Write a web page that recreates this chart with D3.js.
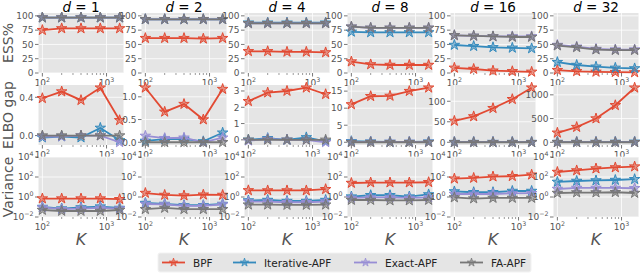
<!DOCTYPE html>
<html>
<head>
<meta charset="utf-8">
<script src="https://cdn.jsdelivr.net/npm/d3@7"></script>
<style>
  body { margin: 0; background: #fff; }
  svg { font-family: "DejaVu Sans", sans-serif; }
</style>
</head>
<body>
<svg id="chart" width="640" height="273"></svg>
<script>
// particle counts and dimensions
const Ks = [100, 200, 400, 800, 1600];
const dims = [1, 2, 4, 8, 16, 32];
const methods = ["BPF", "Iterative-APF", "Exact-APF", "FA-APF"];
const colors = ["#E24A33", "#348ABD", "#988ED5", "#777777"];

// ESS% per method, one row per d
const essBPF = [[75, 78, 78, 78, 78], [61, 61, 61, 60, 61], [38, 38, 37, 37, 36], [20, 15, 14, 14, 14], [9, 7, 4, 3, 2], [5, 3, 2, 1.5, 1]];
const essIter = [[97, 97, 97, 97, 97], [94, 94, 94, 94, 94], [88, 88, 88, 88, 88], [72, 71, 71, 71, 71], [49, 47, 45, 44, 43], [19, 14, 11, 9, 8]];
const essExact = [[97, 97, 97, 97, 97], [94, 94, 94, 94, 94], [87, 87, 87, 87, 87], [81, 79, 79, 79, 79], [66, 65, 64, 64, 64], [49, 46, 42, 41, 41]];
const essFA = [[97, 97, 97, 97, 97], [94, 94, 94, 94, 94], [87, 87, 87, 87, 87], [81, 79, 79, 79, 79], [66, 65, 64, 63, 63], [48, 45, 41, 40, 40]];

// ELBO gap
const elboBPF = [[0.39, 0.46, 0.37, 0.50, 0.16], [1.2, 0.67, 0.84, 0.5, 1.17], [2.37, 2.9, 3.0, 3.2, 2.8], [11.1, 13.5, 13.6, 15, 16], [52, 63, 83, 105, 133], [200, 320, 500, 780, 1150]];
const elboIter = [[-0.02, -0.01, -0.02, 0.08, -0.05], [0.03, 0.07, 0.07, 0.02, 0.21], [0, 0.1, 0, 0.15, -0.1], [0.3, 0.2, 0.1, 0.1, 0.2], [0.5, 0.5, 0.5, 0.5, 0.5], [5, 5, 5, 8, 10]];
const elboExact = [[-0.01, -0.01, 0.0, 0.0, -0.07], [0.14, 0.09, 0.1, 0.0, 0.1], [-0.05, 0.05, 0, 0, -0.15], [0.1, 0.1, 0.1, 0.1, 0.1], [0.3, 0.3, 0.3, 0.3, 0.3], [3, 3, 3, 3, 3]];
const elboFA = [[0, 0, 0, 0, 0], [0, 0, 0, 0, 0], [0, 0, 0, 0, 0], [0, 0, 0, 0, 0], [0, 0, 0, 0, 0], [0, 0, 0, 0, 0]];
const elboTicks = [[0, 0.4], [0, 0.5, 1], [0, 1, 2, 3], [0, 5, 10, 15], [0, 50, 100], [0, 500, 1000]];

// Variance (log scale)
const varBPF = [[0.7, 0.7, 0.7, 0.7, 0.6], [2.5, 1.6, 1.4, 1.7, 1.6], [4.6, 4.5, 4.5, 4.5, 6], [25, 28, 28, 28, 30], [68, 80, 110, 120, 170], [316, 450, 700, 900, 1100]];
const varIter = [[0.1, 0.07, 0.09, 0.11, 0.08], [0.25, 0.2, 0.15, 0.15, 0.2], [0.45, 0.5, 0.4, 0.4, 0.5], [1.1, 1.5, 1.5, 1.1, 1.8], [3.6, 3, 3, 4, 4], [32, 40, 45, 50, 60]];
const varExact = [[0.09, 0.06, 0.07, 0.08, 0.07], [0.2, 0.18, 0.13, 0.13, 0.18], [0.35, 0.35, 0.3, 0.3, 0.35], [0.8, 0.9, 0.9, 0.8, 0.9], [2, 2, 2, 2.3, 2.4], [6.3, 8, 8, 8, 7.5]];
const varFA = [[0.05, 0.04, 0.04, 0.04, 0.05], [0.06, 0.08, 0.06, 0.06, 0.06], [0.17, 0.17, 0.16, 0.16, 0.17], [0.5, 0.5, 0.45, 0.45, 0.5], [0.9, 0.7, 0.8, 0.8, 0.8], [2.5, 2.8, 2.8, 3, 2.5]];
const varTicks = [-2, 0, 2, 4];

const svg = d3.select("#chart");
const panelW = 85, panelH = 60, colStep = 103, left0 = 38.5;
const rowTops = [13, 85, 157];
const rowLabels = ["ESS%", "ELBO gap", "Variance"];
const tickColor = "#555555";

const rows = [
  { series: [essBPF, essIter, essExact, essFA] },
  { series: [elboBPF, elboIter, elboExact, elboFA] },
  { series: [varBPF, varIter, varExact, varFA] }
];

// x scale: log, padded 5% in log space like matplotlib
const lx0 = Math.log10(Ks[0]), lx1 = Math.log10(Ks[Ks.length - 1]);
const lpad = (lx1 - lx0) * 0.05;
const xDomain = [Math.pow(10, lx0 - lpad), Math.pow(10, lx1 + lpad)];

const star = d3.symbol().type(d3.symbolStar).size(34);

function powLabel(sel, exp) {
  sel.append("tspan").text("10");
  sel.append("tspan").attr("dy", -4).attr("font-size", 6.3).text(exp < 0 ? "\u2212" + (-exp) : exp);
}

rows.forEach((row, ri) => {
  dims.forEach((d, ci) => {
    const x0 = left0 + ci * colStep, y0 = rowTops[ri];
    const g = svg.append("g").attr("transform", `translate(${x0},${y0})`);
    const x = d3.scaleLog().domain(xDomain).range([0, panelW]);

    let y, yTicks;
    if (ri === 0) {
      y = d3.scaleLinear().domain([0, 105]).range([panelH, 0]);
      yTicks = [0, 25, 50, 75, 100];
    } else if (ri === 1) {
      const all = row.series.flatMap(s => s[ci]);
      const lo = d3.min(all), hi = d3.max(all), p = (hi - lo) * 0.05;
      y = d3.scaleLinear().domain([lo - p, hi + p]).range([panelH, 0]);
      yTicks = elboTicks[ci];
    } else {
      y = d3.scaleLog().domain([1e-2, 1e4]).range([panelH, 0]);
      yTicks = varTicks.map(e => Math.pow(10, e));
    }

    g.append("rect").attr("width", panelW).attr("height", panelH).attr("fill", "#E5E5E5");

    // grid
    g.selectAll(".gx").data([100, 1000]).enter().append("line")
      .attr("x1", v => x(v)).attr("x2", v => x(v)).attr("y1", 0).attr("y2", panelH)
      .attr("stroke", "#fff").attr("stroke-width", 0.8);
    g.selectAll(".gy").data(yTicks).enter().append("line")
      .attr("x1", 0).attr("x2", panelW).attr("y1", v => y(v)).attr("y2", v => y(v))
      .attr("stroke", "#fff").attr("stroke-width", 0.8);

    // x ticks
    const minor = [200, 300, 400, 500, 600, 700, 800, 900];
    g.selectAll(".mx").data(minor).enter().append("line")
      .attr("x1", v => x(v)).attr("x2", v => x(v)).attr("y1", panelH).attr("y2", panelH + 2)
      .attr("stroke", tickColor).attr("stroke-width", 0.6);
    [100, 1000].forEach((v, i) => {
      g.append("line").attr("x1", x(v)).attr("x2", x(v)).attr("y1", panelH).attr("y2", panelH + 3.5)
        .attr("stroke", tickColor).attr("stroke-width", 0.8);
      const t = g.append("text").attr("x", x(v)).attr("y", panelH + 12.5)
        .attr("text-anchor", "middle").attr("font-size", 9).attr("fill", tickColor);
      powLabel(t, i + 2);
    });

    // y ticks
    yTicks.forEach(v => {
      g.append("line").attr("x1", -3.5).attr("x2", 0).attr("y1", y(v)).attr("y2", y(v))
        .attr("stroke", tickColor).attr("stroke-width", 0.8);
      const t = g.append("text").attr("x", -5).attr("y", y(v) + 3.3)
        .attr("text-anchor", "end").attr("font-size", 9).attr("fill", tickColor);
      if (ri === 2) powLabel(t, Math.round(Math.log10(v)));
      else if (ri === 1 && ci < 2) t.text(d3.format(".1f")(v));
      else t.text(v);
    });

    // series
    row.series.forEach((s, mi) => {
      const vals = s[ci];
      const line = d3.line().x((v, i) => x(Ks[i])).y(v => y(v));
      g.append("path").attr("d", line(vals)).attr("fill", "none")
        .attr("stroke", colors[mi]).attr("stroke-width", 1.8);
      g.selectAll(null).data(vals).enter().append("path")
        .attr("d", star)
        .attr("transform", (v, i) => `translate(${x(Ks[i])},${y(v)})`)
        .attr("fill", colors[mi]).attr("fill-opacity", 0.55)
        .attr("stroke", colors[mi]).attr("stroke-width", 1);
    });

    // titles and K labels
    if (ri === 0) {
      const t = svg.append("text").attr("x", x0 + panelW / 2).attr("y", 11.5)
        .attr("text-anchor", "middle").attr("font-size", 13.5).attr("fill", "#000");
      t.append("tspan").attr("font-style", "italic").text("d");
      t.append("tspan").text(" = " + d);
    }
    if (ri === 2) {
      svg.append("text").attr("x", x0 + panelW / 2).attr("y", 245)
        .attr("text-anchor", "middle").attr("font-size", 16).attr("font-style", "italic")
        .attr("fill", tickColor).text("K");
    }
  });

  svg.append("text")
    .attr("transform", `translate(13,${rowTops[ri] + panelH / 2}) rotate(-90)`)
    .attr("text-anchor", "middle").attr("font-size", 14).attr("fill", tickColor)
    .text(rowLabels[ri]);
});

// legend
const leg = svg.append("g").attr("transform", "translate(158,253)");
leg.append("rect").attr("width", 373).attr("height", 19).attr("rx", 2)
  .attr("fill", "#E5E5E5").attr("stroke", "#f2f2f2");
const legX = [4, 75, 196, 302];
methods.forEach((m, i) => {
  const lg = leg.append("g").attr("transform", `translate(${legX[i]},9.5)`);
  lg.append("line").attr("x1", 0).attr("x2", 23).attr("stroke", colors[i]).attr("stroke-width", 1.8);
  lg.append("path").attr("d", d3.symbol().type(d3.symbolStar).size(22)())
    .attr("transform", "translate(11.5,0)")
    .attr("fill", colors[i]).attr("fill-opacity", 0.55).attr("stroke", colors[i]).attr("stroke-width", 0.8);
  lg.append("text").attr("x", 31).attr("y", 4).attr("font-size", 10.5).attr("fill", "#222").text(m);
});
</script>
</body>
</html>
